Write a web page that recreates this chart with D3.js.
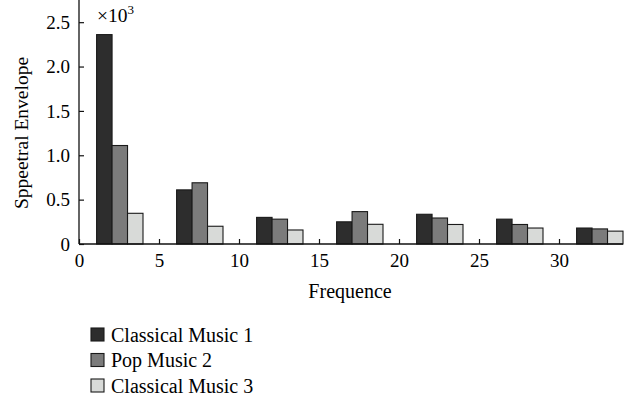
<!DOCTYPE html>
<html>
<head>
<meta charset="utf-8">
<script src="https://d3js.org/d3.v7.min.js"></script>
<style>
    body { margin: 0; background: #fff; }
    text { font-family: "Liberation Serif", "DejaVu Serif", serif; fill: #000; }
    .axis-label { font-size: 19.5px; }
    .legend text { font-size: 20px; }
</style>
</head>
<body>
<svg id="chart"></svg>
<script>
    // group centres on the frequency axis
    const frequencies = [2.5, 7.5, 12.5, 17.5, 22.5, 27.5, 32.5];
    const seriesNames = ["Classical Music 1", "Pop Music 2", "Classical Music 3"];
    // values in units of 10^3
    const classical1 = [2.36, 0.61, 0.30, 0.25, 0.335, 0.28, 0.18];
    const pop2 = [1.11, 0.69, 0.28, 0.365, 0.293, 0.22, 0.17];
    const classical3 = [0.346, 0.20, 0.158, 0.222, 0.22, 0.18, 0.145];
    const xTicks = [0, 5, 10, 15, 20, 25, 30];
    const yTicks = [0, 0.5, 1.0, 1.5, 2.0, 2.5];

    const colors = ["#2d2d2d", "#7b7b7b", "#d8dad8"];
    const seriesValues = [classical1, pop2, classical3];

    const W = 635, H = 404;
    const margin = { top: 0, left: 79 };
    const plotW = 544, plotH = 244;

    const svg = d3.select("#chart").attr("width", W).attr("height", H);
    const g = svg.append("g").attr("transform", `translate(${margin.left},${margin.top})`);

    const x = d3.scaleLinear().domain([0, 34]).range([0, plotW]);
    const y = d3.scaleLinear().domain([0, 2.75]).range([plotH, 0]);
    const inner = d3.scaleBand().domain(seriesNames).range([-1.4, 1.5]).paddingInner(0);

    const rows = [];
    frequencies.forEach((f, i) => {
        seriesNames.forEach((s, j) => {
            rows.push({ f, s, j, v: seriesValues[j][i] });
        });
    });

    g.selectAll(".bar")
        .data(rows)
        .enter()
        .append("rect")
        .attr("class", "bar")
        .attr("x", d => x(d.f + inner(d.s)))
        .attr("y", d => y(d.v))
        .attr("width", d => x(d.f + inner(d.s) + inner.bandwidth()) - x(d.f + inner(d.s)))
        .attr("height", d => y(0) - y(d.v))
        .attr("fill", d => colors[d.j])
        .attr("stroke", "#1a1a1a")
        .attr("stroke-width", 1.1);

    // axes
    const yAxis = g.append("g")
        .call(d3.axisLeft(y).tickValues(yTicks).tickSize(-5).tickPadding(9)
            .tickFormat(d => d === 0 ? "0" : d3.format(".1f")(d)));
    const xAxis = g.append("g")
        .attr("transform", `translate(0,${plotH})`)
        .call(d3.axisBottom(x).tickValues(xTicks).tickSize(-5).tickPadding(10));

    [xAxis, yAxis].forEach(a => {
        a.select(".domain").attr("stroke", "#111").attr("stroke-width", 1.3);
        a.selectAll(".tick line").attr("stroke", "#111").attr("stroke-width", 1.2);
        a.selectAll(".tick text")
            .attr("fill", "#000")
            .style("font-family", "'Liberation Serif', serif")
            .style("font-size", "19px");
    });
    yAxis.select(".domain").attr("d", `M0,${plotH}V0`);
    xAxis.select(".domain").attr("d", `M0,0H${plotW}`);

    // multiplier
    const mult = g.append("text").attr("x", 18).attr("y", 22).attr("class", "axis-label");
    mult.append("tspan").text("×10");
    mult.append("tspan").attr("dy", -8).style("font-size", "13px").text("3");

    svg.append("text")
        .attr("class", "axis-label")
        .attr("text-anchor", "middle")
        .attr("transform", `translate(28,${133}) rotate(-90)`)
        .text("Sppeetral Envelope");

    svg.append("text")
        .attr("class", "axis-label")
        .attr("text-anchor", "middle")
        .style("font-size", "20px")
        .attr("x", 350)
        .attr("y", 298)
        .text("Frequence");

    // legend
    const legend = svg.append("g").attr("class", "legend")
        .attr("transform", "translate(91,328)");
    const items = legend.selectAll("g")
        .data(seriesNames)
        .enter()
        .append("g")
        .attr("transform", (d, i) => `translate(0,${i * 25.5})`);
    items.append("rect")
        .attr("width", 13).attr("height", 13)
        .attr("fill", (d, i) => colors[i])
        .attr("stroke", "#1a1a1a").attr("stroke-width", 1.1);
    items.append("text")
        .attr("x", 20).attr("y", 13.5)
        .text(d => d);
</script>
</body>
</html>
